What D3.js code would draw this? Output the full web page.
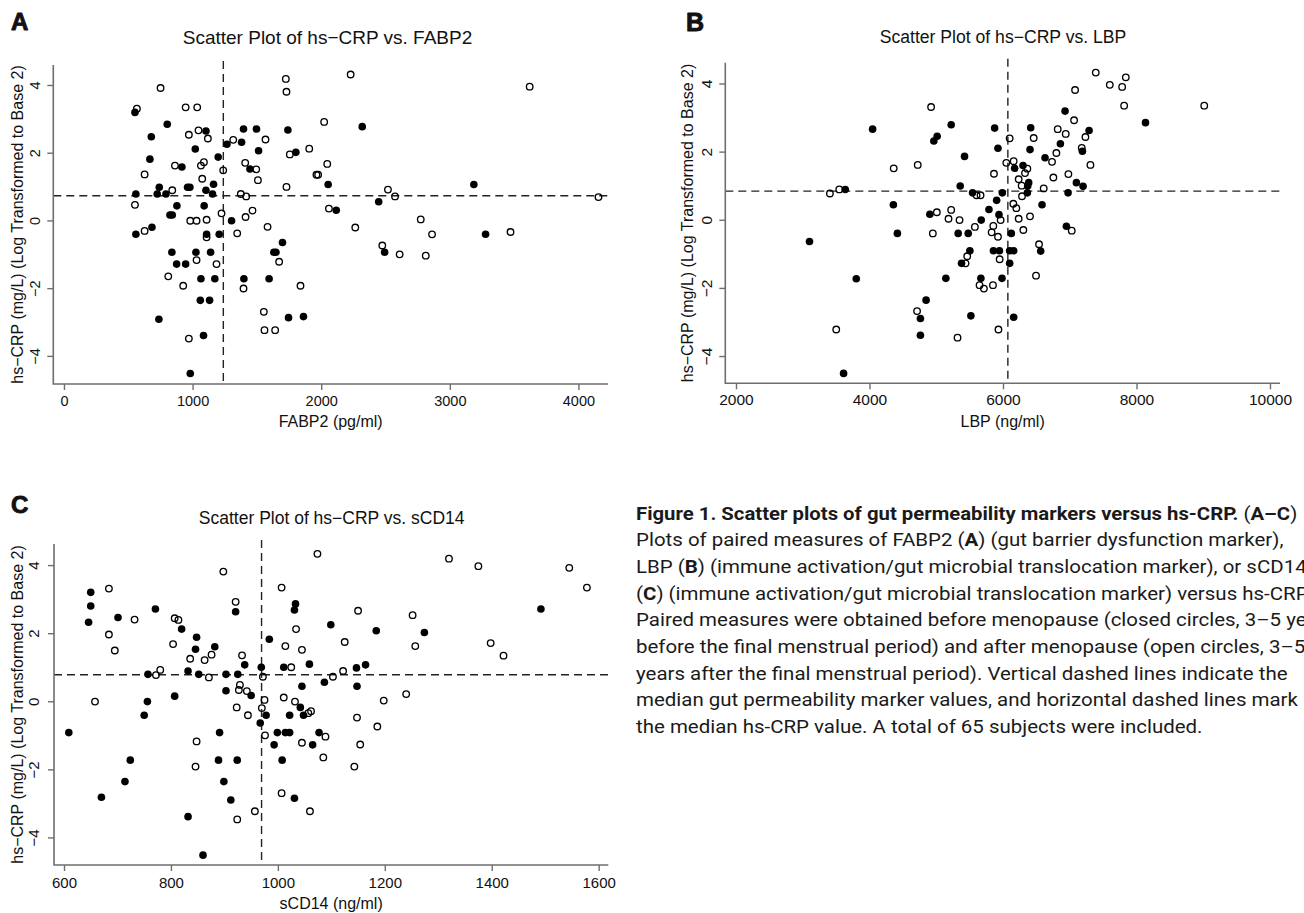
<!DOCTYPE html>
<html><head><meta charset="utf-8">
<script src="https://cdn.jsdelivr.net/npm/d3@7"></script>
<style>body{margin:0;background:#fff}svg{display:block}</style>
</head><body>
<svg id="chart" width="1304" height="913"></svg>
<script>
// ---------- DATA ----------
// Panel A: FABP2 (pg/ml) vs log2 hs-CRP
const fabp2Pre = [[552,3.19],[803,2.84],[679,2.47],[1104,2.64],[1396,2.70],[1497,2.70],[1741,2.67],[1381,2.31],[1267,2.25],[1513,2.06],[1803,2.01],[1021,2.11],[668,1.81],[1199,1.87],[917,1.58],[1446,1.52],[2054,1.06],[741,0.98],[961,0.98],[979,0.98],[1163,1.07],[559,0.78],[725,0.78],[793,0.78],[1104,0.89],[1155,0.78],[878,0.43],[1090,0.43],[824,0.16],[842,0.16],[1303,-0.01],[559,-0.41],[684,-0.20],[1109,-0.41],[1207,-0.41],[1699,-0.65],[839,-0.94],[1026,-0.94],[1140,-0.94],[1632,-0.94],[1648,-0.94],[876,-1.29],[946,-1.29],[1065,-1.72],[1173,-1.72],[1399,-1.72],[1595,-1.72],[1060,-2.36],[1132,-2.36],[738,-2.92],[1746,-2.87],[1862,-2.84],[1085,-3.40],[982,-4.52],[2319,2.77],[2447,0.55],[3187,1.06],[2117,0.30],[3278,-0.41],[2493,-0.94]];
const fabp2Post = [[751,3.91],[567,3.30],[946,3.34],[1036,3.34],[1725,4.18],[1730,3.80],[2023,2.91],[971,2.53],[1046,2.66],[1119,2.42],[1316,2.38],[1567,2.39],[1756,1.95],[1907,2.12],[863,1.62],[1088,1.72],[1065,1.62],[1238,1.48],[1409,1.70],[1495,1.51],[1508,1.19],[627,1.36],[1075,1.23],[1963,1.35],[1976,1.35],[1730,0.99],[552,0.46],[842,0.89],[1375,0.78],[1417,0.71],[1225,0.21],[1466,0.29],[1412,0.10],[982,-0.01],[1031,-0.01],[1109,0.02],[1583,-0.19],[627,-0.31],[1109,-0.50],[1347,-0.38],[1031,-1.17],[1673,-1.22],[1186,-1.29],[811,-1.65],[927,-1.93],[1396,-2.01],[1839,-1.93],[1554,-2.70],[1559,-3.24],[1642,-3.24],[971,-3.49],[2229,4.31],[3621,3.95],[2047,1.67],[2519,0.91],[2574,0.71],[4156,0.69],[2060,0.35],[2265,-0.21],[2774,0.03],[2862,-0.41],[3472,-0.34],[2475,-0.74],[2610,-1.00],[2813,-1.04]];
// Panel B: LBP (ng/ml)
const lbpPre = [[4047,2.66],[5224,2.79],[5014,2.45],[4964,2.31],[5875,2.69],[5925,2.10],[5424,1.86],[5359,0.99],[3637,0.89],[5544,0.79],[5905,0.57],[5990,0.79],[4358,0.44],[4904,0.16],[5674,-0.01],[5790,0.30],[5940,0.15],[4418,-0.40],[5329,-0.40],[5479,-0.40],[3101,-0.64],[5504,-0.91],[5379,-1.28],[5857,-0.91],[5947,-0.91],[3802,-1.73],[5144,-1.72],[5669,-1.72],[5985,-1.72],[4848,-2.36],[4763,-2.90],[5519,-2.82],[4763,-3.39],[3612,-4.51],[6930,3.19],[8135,2.85],[6415,2.70],[7290,2.62],[6405,2.06],[6860,2.23],[7190,2.01],[6630,1.82],[6300,1.59],[6175,1.51],[6385,1.09],[6370,0.99],[7100,1.09],[7200,0.98],[6365,0.79],[6975,0.79],[6585,0.44],[6125,-0.40],[6950,-0.19],[6100,-0.91],[6160,-0.91],[6100,-1.28],[6565,-0.92],[6160,-2.86]];
const lbpPost = [[4923,3.31],[4363,1.51],[4723,1.61],[5865,1.35],[3407,0.77],[3547,0.89],[5604,0.72],[5664,0.72],[5009,0.22],[5224,0.29],[5184,0.03],[5349,-0.01],[5965,-0.01],[5855,-0.18],[5830,-0.37],[5925,-0.50],[5579,-0.21],[4949,-0.40],[5464,-1.07],[5439,-1.28],[5950,-1.16],[5649,-1.92],[5714,-2.02],[5850,-1.92],[4713,-2.68],[3502,-3.22],[5319,-3.46],[5932,-3.22],[7390,4.32],[7600,3.96],[7785,3.90],[7840,4.18],[7815,3.35],[9015,3.35],[7080,3.81],[7065,2.92],[6100,2.39],[6460,2.40],[6820,2.66],[6940,2.52],[7235,2.43],[7180,2.11],[6800,1.96],[6735,1.70],[7310,1.61],[6050,1.67],[6160,1.72],[6365,1.50],[6330,1.37],[6235,1.19],[6755,1.24],[6980,1.34],[6280,1.00],[6610,0.92],[6285,0.69],[6155,0.47],[6200,0.34],[6235,0.03],[6405,0.10],[6305,-0.30],[7030,-0.32],[6540,-0.72],[6495,-1.64]];
// Panel C: sCD14 (ng/ml)
const scd14Pre = [[650,3.20],[650,2.80],[646,2.32],[701,2.46],[771,2.71],[921,2.63],[1033,2.86],[1031,2.68],[820,2.12],[1099,2.25],[848,1.88],[846,1.53],[882,1.60],[938,1.07],[984,1.82],[1059,1.09],[1011,1.00],[969,1.00],[832,0.89],[757,0.79],[852,0.79],[903,0.79],[925,0.79],[1087,0.56],[1045,0.44],[903,0.31],[950,0.17],[807,0.15],[756,-0.01],[750,-0.41],[1042,-0.18],[1048,-0.41],[1022,-0.41],[978,-0.41],[967,-0.64],[609,-0.92],[891,-0.92],[999,-0.92],[1014,-0.92],[1022,-0.92],[1077,-0.92],[993,-1.28],[1065,-1.28],[724,-1.73],[889,-1.73],[924,-1.73],[1008,-1.73],[714,-2.36],[899,-2.36],[670,-2.82],[912,-2.90],[1031,-2.85],[832,-3.39],[860,-4.52],[1492,2.71],[1184,2.07],[1274,2.02],[1147,0.98],[1164,1.07],[1148,0.44]];
const scd14Post = [[1074,4.33],[898,3.81],[1007,3.34],[684,3.31],[732,2.40],[921,2.92],[807,2.44],[814,2.39],[1034,2.12],[684,1.96],[695,1.49],[804,1.68],[876,1.37],[863,1.21],[836,1.25],[933,1.35],[1014,1.62],[1045,1.51],[1025,1.00],[772,0.77],[780,0.92],[871,0.70],[972,0.72],[1103,0.72],[929,0.48],[927,0.33],[942,0.30],[658,-0.01],[975,0.04],[1011,0.11],[1032,-0.01],[1057,-0.35],[1062,-0.29],[923,-0.18],[944,-0.41],[970,-0.20],[976,-1.00],[1089,-1.04],[848,-1.18],[1045,-1.22],[1085,-1.65],[846,-1.92],[1007,-2.70],[957,-3.23],[1060,-3.23],[924,-3.47],[1320,4.19],[1375,3.97],[1545,3.92],[1578,3.34],[1150,2.66],[1252,2.53],[1125,1.74],[1257,1.62],[1398,1.71],[1422,1.34],[1122,0.89],[1198,0.02],[1240,0.21],[1148,-0.48],[1186,-0.74],[1154,-1.27],[1143,-1.92]];

// Medians (dashed reference lines)
const medians = { A: [1239, 0.73], B: [6073, 0.84], C: [969.5, 0.78] };
// Tick labels
const yTicks = [-4, -2, 0, 2, 4];
const xTicksA = [0, 1000, 2000, 3000, 4000];
const xTicksB = [2000, 4000, 6000, 8000, 10000];
const xTicksC = [600, 800, 1000, 1200, 1400, 1600];
const titles = { A: "Scatter Plot of hs\u2212CRP vs. FABP2", B: "Scatter Plot of hs\u2212CRP vs. LBP", C: "Scatter Plot of hs\u2212CRP vs. sCD14" };
const xLabels = { A: "FABP2 (pg/ml)", B: "LBP (ng/ml)", C: "sCD14 (ng/ml)" };
const yLabel = "hs\u2212CRP (mg/L) (Log Transformed to Base 2)";

// ---------- LAYOUT ----------
const panels = [
  { id:"A", pre:fabp2Pre, post:fabp2Post, xTicks:xTicksA, xlim:[-83,4230], ylim:[-4.83,4.59],
    l:53.3, r:608, t:65, b:384, letter:[11,29.5,24], title:[327.5,44,19], tickFs:14.5, xtOff:21.5, ytOff:-13.5, ylabX:23.4, xlabY:427 },
  { id:"B", pre:lbpPre, post:lbpPost, xTicks:xTicksB, xlim:[1840,10150], ylim:[-4.80,4.61],
    l:725.3, r:1280, t:62.7, b:383.3, letter:[686,30.5,25], title:[1003,42.7,17.6], tickFs:15.5, xtOff:22, ytOff:-13.6, ylabX:693.4, xlabY:427 },
  { id:"C", pre:scd14Pre, post:scd14Post, xTicks:xTicksC, xlim:[581.3,1618], ylim:[-4.81,4.62],
    l:54, r:608.3, t:544, b:865, letter:[11,512.5,24], title:[331.7,524,17.5], tickFs:15, xtOff:23, ytOff:-15, ylabX:23.4, xlabY:909 }
];

const svg = d3.select("#chart");
svg.append("rect").attr("width",1304).attr("height",913).attr("fill","#fff");
const FONT = "'Liberation Sans', Arial, Helvetica, sans-serif";
const AXC = "#6e6e6e";

panels.forEach(p => {
  const g = svg.append("g").attr("font-family", FONT);
  const x = d3.scaleLinear().domain(p.xlim).range([p.l, p.r]);
  const y = d3.scaleLinear().domain(p.ylim).range([p.b, p.t]);

  // panel letter
  g.append("text").attr("x", p.letter[0]).attr("y", p.letter[1])
    .attr("font-size", p.letter[2]).attr("font-weight", "bold").attr("fill", "#111")
    .attr("stroke", "#111").attr("stroke-width", 0.9).attr("stroke-linejoin","round").text(p.id);
  // title
  g.append("text").attr("x", p.title[0]).attr("y", p.title[1]).attr("text-anchor","middle")
    .attr("font-size", p.title[2]).attr("fill","#111").text(titles[p.id]);

  // dashed median lines
  const med = medians[p.id];
  g.append("line").attr("x1", x(med[0])).attr("x2", x(med[0])).attr("y1", p.t - 4).attr("y2", p.b)
    .attr("stroke","#222").attr("stroke-width",1.4).attr("stroke-dasharray","8,5");
  g.append("line").attr("x1", p.l).attr("x2", p.r).attr("y1", y(med[1])).attr("y2", y(med[1]))
    .attr("stroke","#222").attr("stroke-width",1.4).attr("stroke-dasharray","8,5");

  // axes (L-shaped box)
  g.append("path").attr("d", `M${p.l},${p.t}V${p.b}H${p.r}`).attr("fill","none")
    .attr("stroke", AXC).attr("stroke-width", 1.6);

  const xa = g.append("g").attr("transform", `translate(0,${p.b})`)
    .call(d3.axisBottom(x).tickValues(p.xTicks).tickSize(6).tickFormat(d3.format("d")));
  xa.select(".domain").remove();
  xa.selectAll("line").attr("stroke", AXC).attr("stroke-width", 1.4);
  xa.selectAll("text").attr("y", p.xtOff).attr("dy", 0).attr("font-size", p.tickFs)
    .attr("font-family", FONT).attr("fill", "#111");

  const ya = g.append("g").attr("transform", `translate(${p.l},0)`)
    .call(d3.axisLeft(y).tickValues(yTicks).tickSize(6).tickFormat(d3.format("d")));
  ya.select(".domain").remove();
  ya.selectAll("line").attr("stroke", AXC).attr("stroke-width", 1.4);
  ya.selectAll("text").attr("x", 0).attr("dy", 0).attr("text-anchor","middle")
    .attr("transform", `translate(${p.ytOff},0) rotate(-90)`)
    .attr("font-size", p.tickFs).attr("font-family", FONT).attr("fill", "#111");

  // axis labels
  g.append("text").attr("x", (p.l + p.r) / 2).attr("y", p.xlabY).attr("text-anchor","middle")
    .attr("font-size", 16).attr("fill","#111").text(xLabels[p.id]);
  g.append("text").attr("transform", `translate(${p.ylabX},${(p.t + p.b) / 2}) rotate(-90)`)
    .attr("text-anchor","middle").attr("font-size", 16).attr("fill","#111").text(yLabel);

  // points
  g.append("g").selectAll("circle").data(p.pre).join("circle")
    .attr("cx", d => x(d[0])).attr("cy", d => y(d[1])).attr("r", 3.8).attr("fill", "#000");
  g.append("g").selectAll("circle").data(p.post).join("circle")
    .attr("cx", d => x(d[0])).attr("cy", d => y(d[1])).attr("r", 3.25)
    .attr("fill", "none").attr("stroke", "#000").attr("stroke-width", 1.35);
});

// ---------- CAPTION ----------
const captionLines = [
  [["Figure 1. Scatter plots of gut permeability markers versus hs-CRP.",1],[" (",0],["A\u2013C",1],[")",0]],
  [["Plots of paired measures of FABP2 (",0],["A",1],[") (gut barrier dysfunction marker),",0]],
  [["LBP (",0],["B",1],[") (immune activation/gut microbial translocation marker), or sCD14",0]],
  [["(",0],["C",1],[") (immune activation/gut microbial translocation marker) versus hs-CRP.",0]],
  [["Paired measures were obtained before menopause (closed circles, 3\u20135 years",0]],
  [["before the final menstrual period) and after menopause (open circles, 3\u20135",0]],
  [["years after the final menstrual period). Vertical dashed lines indicate the",0]],
  [["median gut permeability marker values, and horizontal dashed lines mark",0]],
  [["the median hs-CRP value. A total of 65 subjects were included.",0]]
];
const cap = svg.append("g").attr("font-family","Roboto, 'Noto Sans', sans-serif").attr("font-size",17.5).attr("fill","#1a1a1a");
const capTexts = captionLines.map((segs, i) => {
  const t = cap.append("text").attr("x", 0).attr("y", i * 26.7);
  segs.forEach(s => t.append("tspan").attr("font-weight", s[1] ? "bold" : "normal").text(s[0]));
  return t;
});
const lastLen = capTexts[capTexts.length - 1].node().getComputedTextLength();
const sx = 567 / lastLen;
cap.attr("transform", `translate(636,519.5) scale(${sx},1)`);
// bold headline line: fit to its width in the reference
const firstLen = capTexts[0].node().getComputedTextLength();
const k = (661 / sx) / firstLen;
capTexts[0].attr("transform", `scale(${k},1)`);
</script>
</body></html>
